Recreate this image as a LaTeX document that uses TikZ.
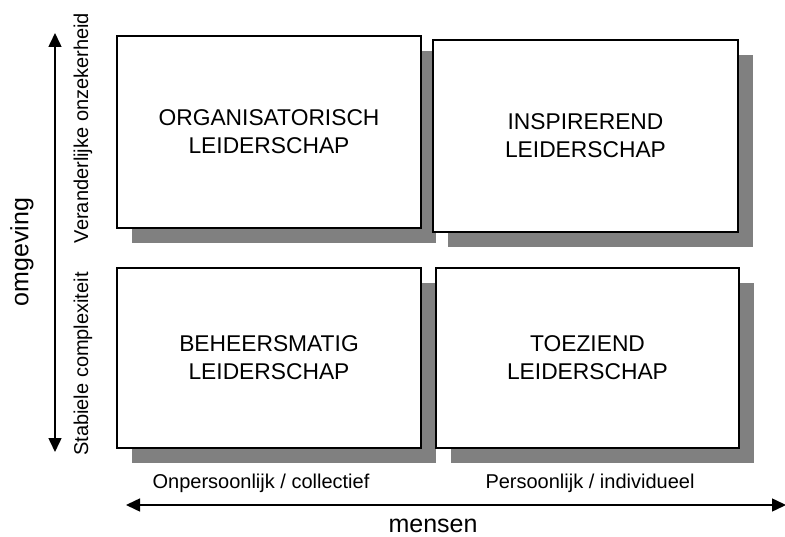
\documentclass[tikz,border=0pt]{standalone}
\usepackage{fontspec}
\setmainfont{Liberation Sans}
\usetikzlibrary{arrows.meta,shadows}
\definecolor{shadowgray}{RGB}{128,128,128}

\begin{document}
\begin{tikzpicture}[x = 1pt, y = -1pt, line width = 1.3pt,
		field/.style = {draw, fill = white, inner sep = 0pt, align = center,
			font = \fontsize{22.8}{28}\selectfont,
			drop shadow = {shadow xshift = 15pt, shadow yshift = -15pt, fill = shadowgray, opacity = 1}},
		axislabel/.style = {inner sep = 0pt, font = \fontsize{20}{24}\selectfont},
		axisname/.style = {inner sep = 0pt, font = \fontsize{25}{30}\selectfont},
		axis/.style = {line width = 1.5pt, {Triangle[length = 14pt, width = 13pt]}-{Triangle[length = 14pt, width = 13pt]}}]

		\useasboundingbox (0,0) rectangle (785,537);

		\node [field, minimum width = 304pt, minimum height = 192pt] (orga) at (269,132) {ORGANISATORISCH\\LEIDERSCHAP};
		\node [field, minimum width = 305pt, minimum height = 192pt] (insp) at (585.5,136) {INSPIREREND\\LEIDERSCHAP};
		\node [field, minimum width = 304pt, minimum height = 180pt] (behe) at (269,358) {BEHEERSMATIG\\LEIDERSCHAP};
		\node [field, minimum width = 303pt, minimum height = 180pt] (toez) at (587.5,358) {TOEZIEND\\LEIDERSCHAP};

		\coordinate (top) at (55,33);
		\coordinate (bottom) at (55,452);
		\coordinate (left) at (126,505);
		\coordinate (right) at (786,505);

		\draw [axis] (bottom) -- (top);
		\draw [axis] (left) -- (right);

		\node [axislabel, rotate = 90] (onzeker) at (83,128) {Veranderlijke onzekerheid};
		\node [axislabel, rotate = 90] (complex) at (83,364) {Stabiele complexiteit};
		\node [axisname, rotate = 90] (omgeving) at (22,252) {omgeving};

		\node [axislabel] (collectief) at (261,483) {Onpersoonlijk / collectief};
		\node [axislabel] (individueel) at (590,483) {Persoonlijk / individueel};
		\node [axisname] (mensen) at (433,526) {mensen};

		\end{tikzpicture}
\end{document}
